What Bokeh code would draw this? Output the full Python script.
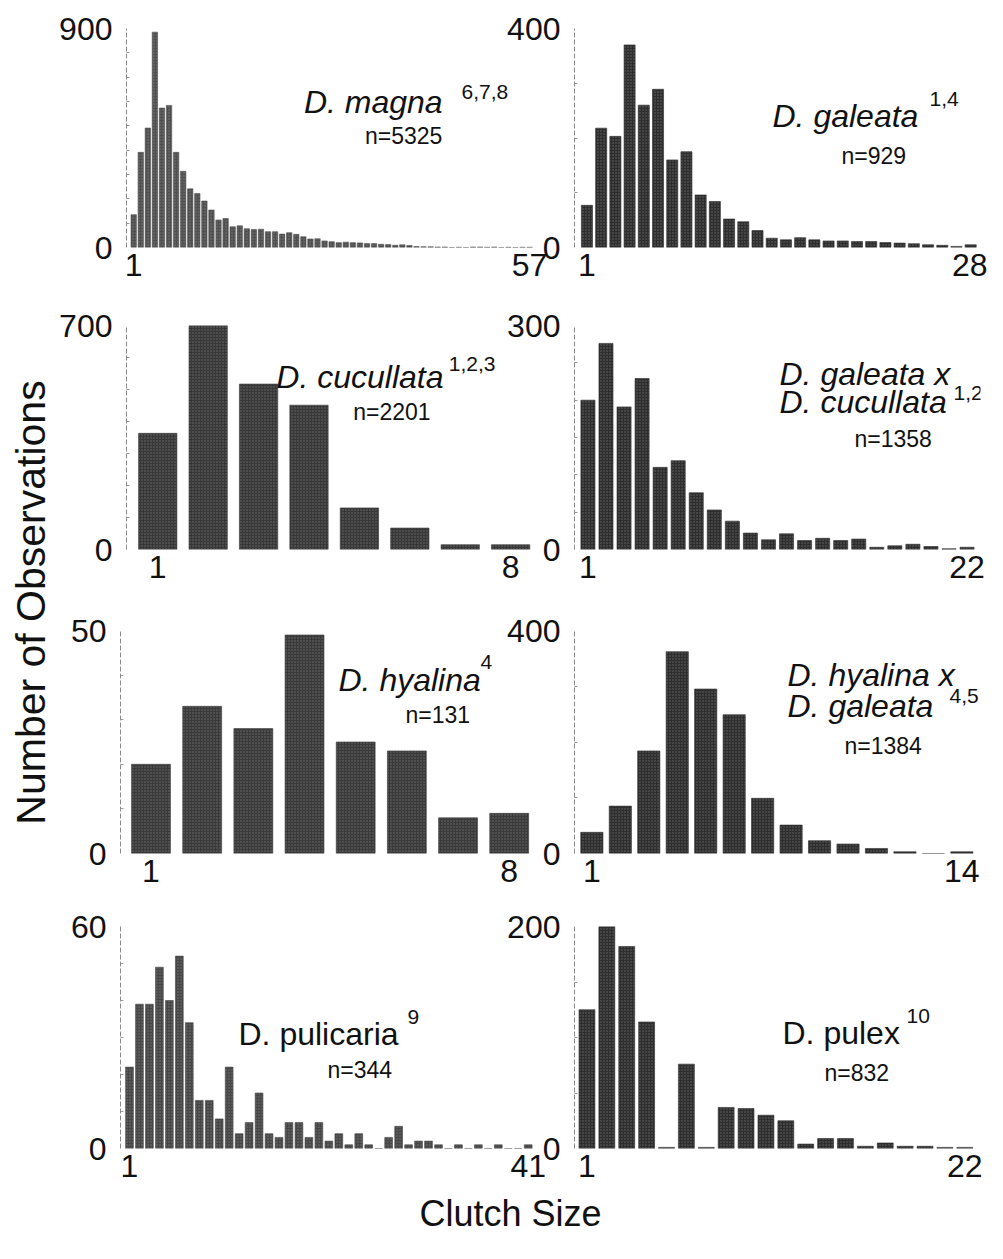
import math
from bokeh.plotting import figure
from bokeh.models import Range1d, FixedTicker, Label, ColumnDataSource
from bokeh.layouts import row, column
from bokeh.embed import file_html
from bokeh.resources import INLINE

FONT = "Liberation Sans"

# ---------------- data ----------------
magna_clutch = list(range(1, 58))
magna_counts = [135, 391, 491, 885, 573, 584, 391, 313, 241, 222,
                191, 154, 113, 119, 85, 89, 77, 74, 75, 65,
                65, 55, 61, 54, 44, 35, 36, 27, 24, 20,
                22, 20, 19, 16, 16, 13, 12, 9, 11, 8,
                4, 3, 3, 2, 2, 0, 1, 0, 2, 2,
                1, 2, 0, 1, 0, 1, 1]
magna_xlabels = ["1", "57"]

galeata_clutch = list(range(1, 29))
galeata_counts = [77, 218, 203, 370, 260, 289, 160, 175, 96, 84,
                  52, 47, 31, 17, 14, 18, 14, 12, 12, 11,
                  11, 9, 8, 7, 5, 4, 2, 5]
galeata_xlabels = ["1", "28"]

cucullata_clutch = list(range(1, 9))
cucullata_counts = [363, 726, 517, 451, 130, 67, 15, 15]
cucullata_xlabels = ["1", "8"]

gal_cuc_clutch = list(range(1, 23))
gal_cuc_counts = [200, 276, 191, 229, 110, 119, 76, 53, 38, 22,
                  13, 21, 12, 15, 12, 14, 3, 5, 7, 4, 1, 3]
gal_cuc_xlabels = ["1", "22"]

hyalina_clutch = list(range(1, 9))
hyalina_counts = [20, 33, 28, 49, 25, 23, 8, 9]
hyalina_xlabels = ["1", "8"]

hyal_gal_clutch = list(range(1, 15))
hyal_gal_counts = [38, 85, 184, 362, 295, 249, 99, 51, 23, 17, 9, 3, 0, 3]
hyal_gal_xlabels = ["1", "14"]

pulicaria_clutch = list(range(1, 42))
pulicaria_counts = [22, 39, 39, 49, 40, 52, 34, 13, 13, 8,
                    22, 4, 7, 15, 4, 3, 7, 7, 3, 7,
                    2, 4, 1, 4, 1, 0, 3, 6, 1, 2,
                    2, 1, 0, 1, 0, 1, 0, 1, 0, 0, 1]
pulicaria_xlabels = ["1", "41"]

pulex_clutch = list(range(1, 21))
pulex_counts = [125, 209, 182, 114, 1, 76, 1, 37, 36, 30,
                25, 4, 9, 9, 2, 5, 2, 2, 1, 1]
pulex_xlabels = ["1", "22"]

y_max = {"magna": 900, "galeata": 400, "cucullata": 700, "gal_cuc": 300,
         "hyalina": 50, "hyal_gal": 400, "pulicaria": 60, "pulex": 200}

# ---------------- layout (pixels from the top-left of the content) ----------------
YLAB_W = 56
LEFT_X, LEFT_W = 56, 492
RIGHT_X, RIGHT_W = 503, 484
ROWS = [(0, 298), (298, 302), (600, 300), (900, 290)]
XLAB_H = 45
TICK_FS = "32px"
SPEC_FS = "32px"
SUP_FS = "21px"
N_FS = "23px"

L_FL, L_FR = 120, 535
R_FL, R_FR = 574, 980
R_REF_FR = 988  # right frame edge in the reference; squeezed to fit the window


def rx(x):
    return R_FL + (x - R_FL) * (R_FR - R_FL) / (R_REF_FR - R_FL)


def rtx(x):
    return x - 6


def lx(x):
    return x


def make_panel(clutch, counts, ymax, xlabels, minor_step, texts, geom,
               fig_x, fig_w, row_top, row_h, xmap, tmap):
    fl, fr, ft, fb, c0, c1, frac, color = geom
    c0, c1 = xmap(c0), xmap(c1)
    spacing = (c1 - c0) / (clutch[-1] - clutch[0])
    xs = clutch[0] - (c0 - fl) / spacing
    xe = clutch[0] + (fr - c0) / spacing
    p = figure(width=fig_w, height=row_h,
               x_range=Range1d(xs, xe), y_range=Range1d(0, ymax),
               min_border_left=int(round(fl - fig_x)),
               min_border_right=int(round(fig_x + fig_w - fr)),
               min_border_top=int(round(ft - row_top)),
               min_border_bottom=int(round(row_top + row_h - fb)),
               output_backend="svg", toolbar_location=None)
    p.border_fill_color = None
    p.background_fill_color = None
    p.outline_line_color = None
    p.xgrid.visible = False
    p.ygrid.visible = False

    src = ColumnDataSource(dict(x=clutch, top=counts))
    p.vbar(x="x", top="top", width=frac, source=src,
           fill_color=color, line_color=color, line_width=0.6,
           hatch_pattern=".", hatch_color="#b8b8b8", hatch_alpha=0.4,
           hatch_scale=3, hatch_weight=0.8)

    xa = p.xaxis[0]
    xa.ticker = FixedTicker(ticks=[clutch[0], clutch[-1]])
    xa.major_label_overrides = {clutch[0]: xlabels[0], clutch[-1]: xlabels[1]}
    xa.axis_line_color = None
    xa.major_tick_line_color = None
    xa.minor_tick_line_color = None
    xa.major_label_text_font = FONT
    xa.major_label_text_font_size = TICK_FS
    xa.major_label_text_color = "#111111"
    xa.major_label_standoff = 0

    ya = p.yaxis[0]
    minors = list(range(minor_step, ymax, minor_step))
    ya.ticker = FixedTicker(ticks=[0, ymax], minor_ticks=minors)
    ya.axis_line_color = "#8a8a8a"
    ya.axis_line_width = 1
    ya.axis_line_dash = "5 2"
    ya.major_tick_line_color = None
    ya.minor_tick_line_color = "#9a9a9a"
    ya.minor_tick_in = 3
    ya.minor_tick_out = 0
    ya.major_label_text_font = FONT
    ya.major_label_text_font_size = TICK_FS
    ya.major_label_text_color = "#111111"
    ya.major_label_standoff = 8

    for (txt, px, py, size, style) in texts:
        x = xs + (tmap(px) - fl) / spacing
        y = (fb - py) / (fb - ft) * ymax
        p.add_layout(Label(x=x, y=y, text=txt, text_font=FONT,
                           text_font_size=size, text_font_style=style,
                           text_align="left", text_baseline="alphabetic",
                           text_color="#111111"))
    return p


p_magna = make_panel(magna_clutch, magna_counts, y_max["magna"], magna_xlabels, 100,
                     [("D. magna", 300, 103, SPEC_FS, "italic"),
                      ("6,7,8", 460, 92, SUP_FS, "normal"),
                      ("n=5325", 362, 137, N_FS, "normal")],
                     (L_FL, L_FR, 28, 250, 127.3, 529.0, 0.76, "#505050"),
                     LEFT_X, LEFT_W, *ROWS[0], lx, lx)
p_galeata = make_panel(galeata_clutch, galeata_counts, y_max["galeata"], galeata_xlabels, 100,
                       [("D. galeata", 778, 111, SPEC_FS, "italic"),
                        ("1,4", 935, 94, SUP_FS, "normal"),
                        ("n=929", 847, 153, N_FS, "normal")],
                       (R_FL, R_FR, 21, 247, 586.7, 978.0, 0.78, "#2e2e2e"),
                       RIGHT_X, RIGHT_W, *ROWS[0], rx, rtx)
p_cuc = make_panel(cucullata_clutch, cucullata_counts, y_max["cucullata"], cucullata_xlabels, 100,
                   [("D. cucullata", 272, 377, SPEC_FS, "italic"),
                    ("1,2,3", 447, 364, SUP_FS, "normal"),
                    ("n=2201", 350, 413, N_FS, "normal")],
                   (L_FL, L_FR, 325, 552, 151.7, 509.8, 0.76, "#383838"),
                   LEFT_X, LEFT_W, *ROWS[1], lx, lx)
p_gc = make_panel(gal_cuc_clutch, gal_cuc_counts, y_max["gal_cuc"], gal_cuc_xlabels, 50,
                  [("D. galeata x", 785, 372, SPEC_FS, "italic"),
                   ("D. cucullata", 785, 400, SPEC_FS, "italic"),
                   ("1,2", 959, 391, SUP_FS, "normal"),
                   ("n=1358", 860, 438, N_FS, "normal")],
                  (R_FL, R_FR, 323, 549, 587.7, 974.3, 0.78, "#2e2e2e"),
                  RIGHT_X, RIGHT_W, *ROWS[1], rx, rtx)
p_hy = make_panel(hyalina_clutch, hyalina_counts, y_max["hyalina"], hyalina_xlabels, 10,
                  [("D. hyalina", 338, 680, SPEC_FS, "italic"),
                   ("4", 480, 662, SUP_FS, "normal"),
                   ("n=131", 405, 715, N_FS, "normal")],
                  (L_FL, L_FR, 630, 855, 150.5, 508.7, 0.76, "#3a3a3a"),
                  LEFT_X, LEFT_W, *ROWS[2], lx, lx)
p_hg = make_panel(hyal_gal_clutch, hyal_gal_counts, y_max["hyal_gal"], hyal_gal_xlabels, 100,
                  [("D. hyalina x", 793, 668, SPEC_FS, "italic"),
                   ("D. galeata", 793, 700, SPEC_FS, "italic"),
                   ("4,5", 955, 690, SUP_FS, "normal"),
                   ("n=1384", 850, 742, N_FS, "normal")],
                  (R_FL, R_FR, 622, 853, 591.7, 969.0, 0.78, "#2e2e2e"),
                  RIGHT_X, RIGHT_W, *ROWS[2], rx, rtx)
p_pc = make_panel(pulicaria_clutch, pulicaria_counts, y_max["pulicaria"], pulicaria_xlabels, 10,
                  [("D. pulicaria", 238, 1035, SPEC_FS, "normal"),
                   ("9", 407, 1018, SUP_FS, "normal"),
                   ("n=344", 327, 1072, N_FS, "normal")],
                  (L_FL, L_FR, 925, 1152, 129.0, 527.7, 0.78, "#474747"),
                  LEFT_X, LEFT_W, *ROWS[3], lx, lx)
p_px = make_panel(pulex_clutch, pulex_counts, y_max["pulex"], pulex_xlabels, 50,
                  [("D. pulex", 788, 1032, SPEC_FS, "normal"),
                   ("10", 912, 1015, SUP_FS, "normal"),
                   ("n=832", 830, 1072, N_FS, "normal")],
                  (R_FL, R_FR, 926, 1148, 586.7, 972.0, 0.80, "#2e2e2e"),
                  RIGHT_X, RIGHT_W, *ROWS[3], rx, rtx)

overlap = LEFT_X + LEFT_W - RIGHT_X
for pr in (p_galeata, p_gc, p_hg, p_px):
    pr.margin = (0, 0, 0, -overlap)

rows_total = sum(h for _, h in ROWS)

ylab = figure(width=YLAB_W, height=rows_total, x_range=Range1d(0, YLAB_W),
              y_range=Range1d(0, rows_total), x_axis_type=None, y_axis_type=None,
              min_border=0, output_backend="svg", toolbar_location=None)
ylab.outline_line_color = None
ylab.xgrid.visible = False
ylab.ygrid.visible = False
ylab.add_layout(Label(x=30, y=rows_total - 602, text="Number of Observations",
                      angle=math.pi / 2, text_align="center", text_baseline="middle",
                      text_font=FONT, text_font_size="41px", text_color="#111111"))

TOTAL_W = YLAB_W + LEFT_W + RIGHT_W - overlap
xlab = figure(width=TOTAL_W, height=XLAB_H, x_range=Range1d(0, TOTAL_W),
              y_range=Range1d(0, XLAB_H), x_axis_type=None, y_axis_type=None,
              min_border=0, output_backend="svg", toolbar_location=None)
xlab.outline_line_color = None
xlab.xgrid.visible = False
xlab.ygrid.visible = False
xlab.add_layout(Label(x=510, y=22, text="Clutch Size",
                      text_align="center", text_baseline="middle",
                      text_font=FONT, text_font_size="36px", text_color="#111111"))

grid = column(row(p_magna, p_galeata), row(p_cuc, p_gc), row(p_hy, p_hg), row(p_pc, p_px))
layout = column(row(ylab, grid), xlab)

open("out.html", "w").write(file_html(layout, INLINE))
